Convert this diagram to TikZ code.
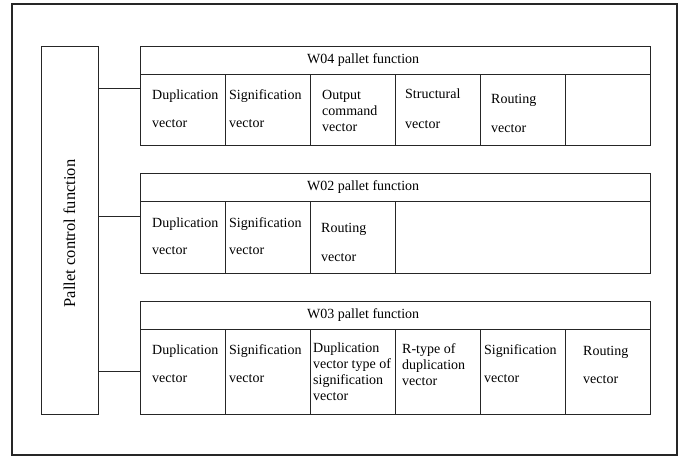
\documentclass[tikz,border=0pt]{standalone}
\usepackage{fontspec}
\setmainfont{Liberation Serif}
\begin{document}
\begin{tikzpicture}[x=1pt,y=-1pt,
  line/.style={draw=black!85, line width=0.8pt},
  box/.style={line, rectangle, inner sep=0pt, outer sep=0pt, anchor=north west},
  txt/.style={inner sep=0pt, anchor=west, align=left, font=\fontsize{14}{16}\selectfont},
  title/.style={inner sep=0pt, anchor=west, font=\fontsize{14}{16}\selectfont}
]
\useasboundingbox (0,0) rectangle (684,457);
% outer frame
\draw[black!85, line width=1.8pt] (12,4) rectangle (677,455);

% pallet control block
\node[box, minimum width=57, minimum height=368] (ctrl) at (41,46) {};
\node[inner sep=0pt, rotate=90, font=\fontsize{16.5}{18}\selectfont] (ctrlt)
  at (69.5,233.5) {Pallet control function};

% W04 group
\node[box, minimum width=510, minimum height=28] (w4) at (140,46) {};
\node[title] (w4t) at (307,60.5) {W04 pallet function};
\foreach \i in {0,...,5}
  \node[box, minimum width=85, minimum height=71] (w4c\i) at ({140+85*\i},74) {};
\node[txt] (w4a) at (152,109) {Duplication\\[12pt]vector};
\node[txt] (w4b) at (229,109) {Signification\\[12pt]vector};
\node[txt] (w4d) at (322,111) {Output\\command\\vector};
\node[txt] (w4e) at (405,109) {Structural\\[14pt]vector};
\node[txt] (w4f) at (491,113.5) {Routing\\[13pt]vector};

% W02 group
\node[box, minimum width=510, minimum height=28] (w2) at (140,173) {};
\node[title] (w2t) at (307,187.5) {W02 pallet function};
\foreach \i in {0,...,2}
  \node[box, minimum width=85, minimum height=72] (w2c\i) at ({140+85*\i},201) {};
\node[box, minimum width=255, minimum height=72] (w2c3) at (395,201) {};
\node[txt] (w2a) at (152,236.5) {Duplication\\[11pt]vector};
\node[txt] (w2b) at (229,236.5) {Signification\\[11pt]vector};
\node[txt] (w2d) at (321,242.5) {Routing\\[13pt]vector};

% W03 group
\node[box, minimum width=510, minimum height=28] (w3) at (140,301) {};
\node[title] (w3t) at (307,315.5) {W03 pallet function};
\foreach \i in {0,...,5}
  \node[box, minimum width=85, minimum height=85] (w3c\i) at ({140+85*\i},329) {};
\node[txt] (w3a) at (152,364) {Duplication\\[12pt]vector};
\node[txt] (w3b) at (229,364) {Signification\\[12pt]vector};
\node[txt] (w3d) at (313,372) {Duplication\\vector type of\\signification\\vector};
\node[txt] (w3e) at (402,365) {R-type of\\duplication\\vector};
\node[txt] (w3f) at (484,364) {Signification\\[12pt]vector};
\node[txt] (w3g) at (583,365) {Routing\\[12pt]vector};

% links from the control block to each group
\coordinate (j4) at (140,88);
\coordinate (j2) at (140,216);
\coordinate (j3) at (140,371);
\draw[line] (j4 -| ctrl.east) -- (j4);
\draw[line] (j2 -| ctrl.east) -- (j2);
\draw[line] (j3 -| ctrl.east) -- (j3);
\end{tikzpicture}
\end{document}
